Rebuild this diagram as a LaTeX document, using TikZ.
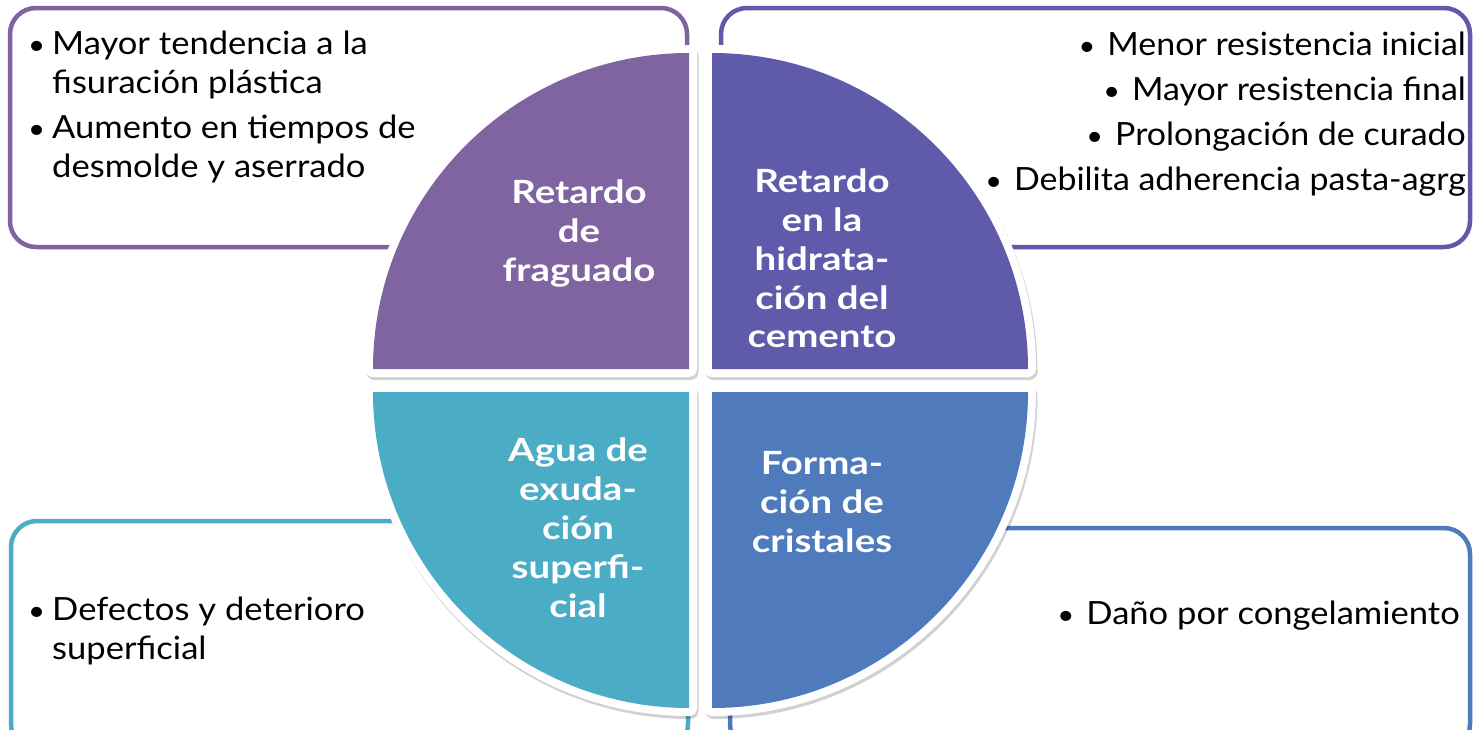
\documentclass[tikz,border=0pt]{standalone}
\usepackage{fontspec}
\setmainfont{Lato}
\newfontfamily\boxfont[FakeStretch=1.08]{Lato}
\newfontfamily\condfont[FakeStretch=1.06]{Lato}
\newfontfamily\ctrfont[FakeStretch=1.2]{Lato}
\definecolor{cPurple}{HTML}{8064A2}
\definecolor{cViolet}{HTML}{5F5AAA}
\definecolor{cAqua}{HTML}{4BACC6}
\definecolor{cBlue}{HTML}{4F7BBD}
\newcommand{\bul}{{\scalebox{0.85}{•}}\hspace{12pt}}
\begin{document}
\begin{tikzpicture}[x=1pt,y=1pt,
  box/.style={draw, line width=4.5pt, fill=white, rounded corners=26pt, inner sep=0pt},
  ctr/.style={text=white, font=\ctrfont\bfseries\fontsize{32}{38}\selectfont, anchor=base, inner sep=0pt},
  itm/.style={font=\boxfont\fontsize{32}{38}\selectfont, anchor=base west, inner sep=0pt},
  itmr/.style={font=\condfont\fontsize{32}{38}\selectfont, anchor=base east, inner sep=0pt},
  itmc/.style={font=\boxfont\fontsize{32}{38}\selectfont, anchor=base east, inner sep=0pt},
  qshadow/.style={fill=black, draw=black, line width=16pt, line join=round, opacity=0.18},
  quarter/.style={preaction={draw=white, line width=16pt, line join=round}}
]
\useasboundingbox (0,0) rectangle (1474,-729);
\clip (0,0) rectangle (1474,-729);
\fill[white] (0,0) rectangle (1474,-729);

% side boxes
\node[box, draw=cPurple, minimum width=677pt, minimum height=239pt] (boxTL) at (348.5,-127.5) {};
\node[box, draw=cViolet, minimum width=749pt, minimum height=239pt] (boxTR) at (1095.5,-127.5) {};
\node[box, draw=cAqua, minimum width=677pt, minimum height=229pt] (boxBL) at (349.5,-635.5) {};
\node[box, draw=cBlue, minimum width=740pt, minimum height=222pt] (boxBR) at (1100,-639) {};

% shadows of the quarters
\begin{scope}[shift={(1.5,-3)}]
\path[qshadow] (689,-369) -- (373,-369) arc[start angle=180, end angle=90, radius=316] -- cycle;
\path[qshadow] (712,-369) -- (712,-53) arc[start angle=90, end angle=0, radius=316] -- cycle;
\path[qshadow] (689,-392) -- (689,-708) arc[start angle=270, end angle=180, radius=316] -- cycle;
\path[qshadow] (712,-392) -- (1028,-392) arc[start angle=0, end angle=-90, radius=316] -- cycle;
\end{scope}

% quarters
\fill[quarter, cPurple] (689,-369) -- (373,-369) arc[start angle=180, end angle=90, radius=316] -- cycle;
\fill[quarter, cViolet] (712,-369) -- (712,-53) arc[start angle=90, end angle=0, radius=316] -- cycle;
\fill[quarter, cAqua] (689,-392) -- (689,-708) arc[start angle=270, end angle=180, radius=316] -- cycle;
\fill[quarter, cBlue] (712,-392) -- (1028,-392) arc[start angle=0, end angle=-90, radius=316] -- cycle;

% centre texts
\node[ctr] (tl1) at (579,-203) {Retardo};
\node[ctr] (tl2) at (579,-242) {de};
\node[ctr] (tl3) at (579,-281) {fraguado};

\node[ctr] (tr1) at (822,-192) {Retardo};
\node[ctr] (tr2) at (822,-231) {en la};
\node[ctr] (tr3) at (822,-270) {hidrata-};
\node[ctr] (tr4) at (822,-309) {ción del};
\node[ctr] (tr5) at (822,-347) {cemento};

\node[ctr] (bl1) at (578,-461) {Agua de};
\node[ctr] (bl2) at (578,-500) {exuda-};
\node[ctr] (bl3) at (578,-539) {ción};
\node[ctr] (bl4) at (578,-578) {superfi-};
\node[ctr] (bl5) at (578,-617) {cial};

\node[ctr] (br1) at (822,-474) {Forma-};
\node[ctr] (br2) at (822,-513) {ción de};
\node[ctr] (br3) at (822,-552) {cristales};

% box texts
\node[itm] (tlb1) at (28,-54) {\scalebox{0.85}{•}};
\node[itm] (tlt1) at (52,-54) {Mayor tendencia a la};
\node[itm] (tlt2) at (52,-93) {fisuración plástica};
\node[itm] (tlb2) at (28,-138) {\scalebox{0.85}{•}};
\node[itm] (tlt3) at (52,-138) {Aumento en tiempos de};
\node[itm] (tlt4) at (52,-177) {desmolde y aserrado};

\node[itmr] (trt1) at (1466,-55) {\bul Menor resistencia inicial};
\node[itmr] (trt2) at (1466,-100) {\bul Mayor resistencia final};
\node[itmr] (trt3) at (1466,-145) {\bul Prolongación de curado};
\node[itmr] (trt4) at (1466,-190) {\bul Debilita adherencia pasta-agrg};

\node[itm] (blb1) at (28,-620) {\scalebox{0.85}{•}};
\node[itm] (blt1) at (52,-620) {Defectos y deterioro};
\node[itm] (blt2) at (52,-659) {superficial};

\node[itmc] (brt1) at (1460,-624) {\bul Daño por congelamiento};
\end{tikzpicture}
\end{document}
